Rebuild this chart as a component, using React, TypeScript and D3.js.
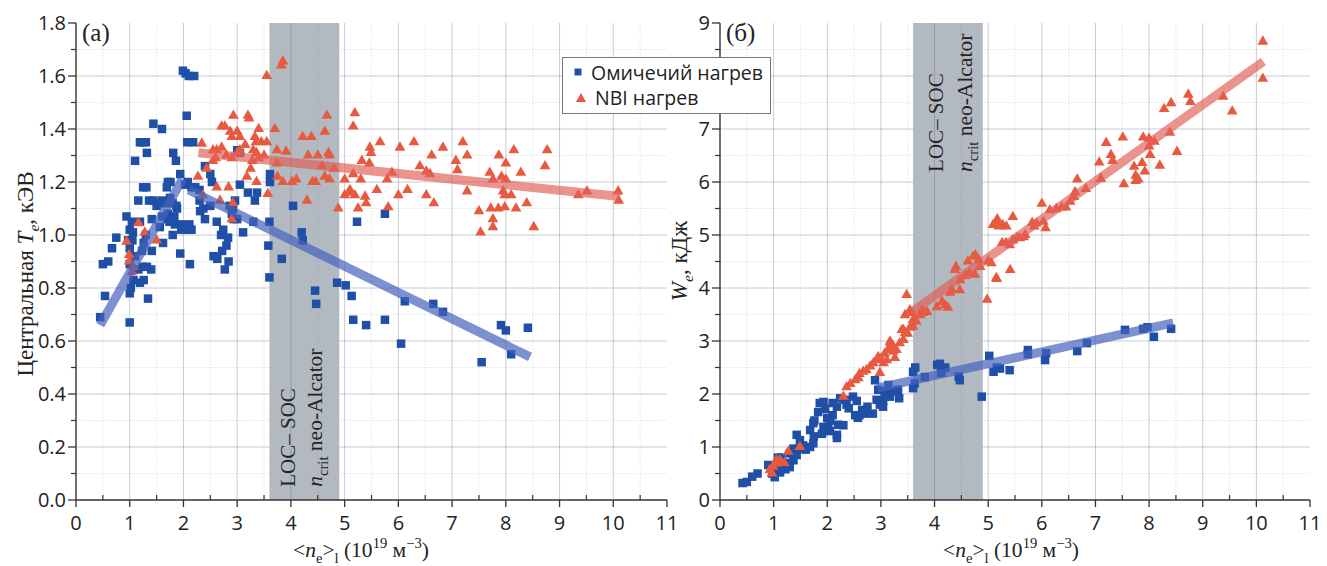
import React, { useEffect, useRef } from 'react';
import * as d3 from 'd3';

// two panels: central Te and stored energy We vs line-averaged density

type Pt = [number, number];

const xTicks = [0, 1, 2, 3, 4, 5, 6, 7, 8, 9, 10, 11];
const xMinor = [0.5, 1.5, 2.5, 3.5, 4.5, 5.5, 6.5, 7.5, 8.5, 9.5, 10.5];
const teTicks = [0, 0.2, 0.4, 0.6, 0.8, 1.0, 1.2, 1.4, 1.6, 1.8];
const teMinor = [0.1, 0.3, 0.5, 0.7, 0.9, 1.1, 1.3, 1.5, 1.7];
const weTicks = [0, 1, 2, 3, 4, 5, 6, 7, 8, 9];
const weMinor = [0.5, 1.5, 2.5, 3.5, 4.5, 5.5, 6.5, 7.5, 8.5];
const band: Pt = [3.6, 4.9];

const legendLabels = ['Омичечий нагрев', 'NBI нагрев'];

const ohmicTe: Pt[] = [
  [0.45, 0.69], [0.54, 0.77], [1.0, 0.67], [0.5, 0.89], [0.6, 0.9], [0.67, 0.95], [0.75, 0.99], [0.94, 1.07],
  [1.0, 0.78], [1.02, 0.8], [1.34, 0.76], [1.07, 0.83], [1.19, 0.82], [1.26, 0.83], [1.16, 0.87], [1.24, 0.88],
  [1.32, 0.88], [1.4, 0.87], [1.0, 0.89], [1.1, 0.92], [1.23, 0.94], [1.41, 0.94], [1.0, 0.95], [0.97, 0.98],
  [1.05, 0.98], [1.26, 0.97], [1.3, 1.0], [1.62, 0.97], [1.06, 1.01], [1.0, 1.02], [1.04, 1.05], [1.19, 1.05],
  [1.41, 1.06], [1.56, 1.03], [1.16, 1.13], [1.1, 1.28], [1.25, 1.18], [1.31, 1.18], [1.36, 1.13], [1.44, 1.13],
  [1.56, 1.12], [1.68, 1.12], [1.8, 1.12], [1.88, 1.1], [1.5, 1.11], [1.6, 1.13], [1.71, 1.08], [1.83, 1.07],
  [1.74, 1.05], [1.84, 1.04], [1.99, 1.04], [2.11, 1.04], [1.96, 1.02], [2.11, 1.02], [2.15, 1.02], [1.71, 1.2],
  [1.76, 1.2], [1.94, 1.23], [1.69, 1.18], [1.75, 1.14], [1.87, 1.11], [1.6, 1.07], [1.7, 1.06], [1.8, 1.0],
  [1.94, 0.93], [2.12, 0.89], [1.19, 1.35], [1.24, 1.35], [1.3, 1.35], [1.32, 1.31], [1.44, 1.42], [1.6, 1.4],
  [1.81, 1.31], [1.86, 1.28], [1.99, 1.62], [2.04, 1.61], [2.1, 1.6], [2.2, 1.6], [2.06, 1.45], [2.07, 1.35],
  [2.18, 1.35], [2.03, 1.19], [2.08, 1.2], [2.15, 1.18], [2.22, 1.18], [2.3, 1.17], [2.4, 1.26], [2.31, 1.09],
  [2.37, 1.1], [2.3, 1.13], [2.4, 1.06], [2.5, 1.11], [2.53, 1.2], [2.5, 1.23], [2.62, 1.05], [2.56, 0.92],
  [2.63, 0.91], [2.7, 1.0], [2.74, 1.02], [2.72, 0.94], [2.8, 0.96], [2.83, 0.99], [2.77, 0.87], [2.84, 0.9],
  [2.9, 1.08], [2.92, 1.1], [2.86, 1.11], [2.93, 1.06], [3.0, 1.06], [2.96, 1.13], [3.0, 1.32], [3.05, 1.31],
  [3.05, 1.19], [3.11, 1.01], [3.3, 1.05], [3.2, 1.16], [3.33, 1.13], [3.37, 1.16], [3.6, 1.05], [3.58, 0.96],
  [3.83, 0.91], [3.6, 0.84], [3.61, 1.2], [3.61, 1.23], [4.04, 1.11], [4.2, 1.01], [4.22, 0.98], [4.45, 0.79],
  [4.47, 0.74], [4.86, 0.82], [5.02, 0.81], [5.13, 0.77], [5.16, 0.68], [5.4, 0.66], [5.75, 0.68], [6.05, 0.59],
  [6.12, 0.75], [6.65, 0.74], [6.83, 0.71], [7.55, 0.52], [7.91, 0.66], [8.0, 0.64], [8.1, 0.55], [8.41, 0.65],
  [5.23, 1.05], [5.75, 1.08],
];

const nbiTe: Pt[] = [
  [0.94, 0.975], [0.99, 0.925], [0.99, 0.9], [1.04, 0.86], [1.07, 0.88], [1.16, 1.045], [1.28, 1.01], [1.5, 0.98],
  [2.27, 1.22], [2.34, 1.345], [2.36, 1.15], [2.43, 1.25], [2.55, 1.28], [2.55, 1.32], [2.6, 1.29], [2.62, 1.32],
  [2.62, 1.18], [2.68, 1.13], [2.71, 1.33], [2.71, 1.41], [2.77, 1.41], [2.8, 1.3], [2.84, 1.18], [2.87, 1.39],
  [2.9, 1.29], [2.9, 1.37], [2.92, 1.12], [2.9, 1.06], [2.93, 1.45], [3.0, 1.31], [3.0, 1.39], [3.05, 1.32],
  [3.05, 1.37], [3.15, 1.34], [3.18, 1.22], [3.2, 1.45], [3.22, 1.44], [3.25, 1.25], [3.28, 1.28], [3.3, 1.32],
  [3.33, 1.37], [3.35, 1.35], [3.36, 1.31], [3.36, 1.2], [3.4, 1.29], [3.4, 1.4], [3.45, 1.35], [3.5, 1.3],
  [3.55, 1.35], [3.55, 1.6], [3.57, 1.155], [3.7, 1.4], [3.74, 1.32], [3.74, 1.27], [3.75, 1.22], [3.82, 1.64],
  [3.85, 1.655], [3.85, 1.2], [3.91, 1.315], [4.02, 1.2], [4.1, 1.21], [4.22, 1.37], [4.3, 1.13], [4.32, 1.3],
  [4.38, 1.37], [4.4, 1.2], [4.46, 1.2], [4.5, 1.3], [4.58, 1.26], [4.63, 1.39], [4.63, 1.22], [4.67, 1.45],
  [4.7, 1.31], [4.72, 1.3], [4.72, 1.21], [4.8, 1.25], [4.88, 1.1], [5.0, 1.21], [5.0, 1.15], [5.07, 1.16],
  [5.16, 1.23], [5.16, 1.41], [5.19, 1.46], [5.1, 1.17], [5.19, 1.15], [5.25, 1.1], [5.3, 1.21], [5.32, 1.28],
  [5.38, 1.145], [5.4, 1.12], [5.46, 1.27], [5.47, 1.33], [5.49, 1.31], [5.6, 1.17], [5.66, 1.35], [5.79, 1.21],
  [5.81, 1.105], [5.88, 1.235], [6.0, 1.15], [6.03, 1.33], [6.17, 1.17], [6.29, 1.35], [6.4, 1.26], [6.52, 1.24],
  [6.59, 1.23], [6.52, 1.15], [6.62, 1.3], [6.66, 1.12], [6.83, 1.33], [7.07, 1.28], [7.1, 1.245], [7.2, 1.35],
  [7.28, 1.3], [7.28, 1.165], [7.5, 1.09], [7.53, 1.01], [7.7, 1.235], [7.72, 1.1], [7.76, 1.06], [7.76, 1.03],
  [7.76, 1.21], [7.86, 1.1], [7.87, 1.3], [7.92, 1.22], [7.95, 1.165], [7.98, 1.105], [7.98, 1.15], [8.0, 1.21],
  [8.0, 1.27], [8.1, 1.15], [8.15, 1.32], [8.19, 1.1], [8.28, 1.235], [8.39, 1.12], [8.52, 1.03], [8.73, 1.26],
  [8.77, 1.32], [9.35, 1.15], [9.51, 1.165], [10.09, 1.165], [10.1, 1.13],
];

const ohmicWe: Pt[] = [
  [0.42, 0.32], [0.5, 0.34], [0.6, 0.44], [0.7, 0.5], [0.9, 0.66], [0.97, 0.5], [1.02, 0.43], [1.04, 0.55],
  [1.08, 0.69], [1.08, 0.8], [1.14, 0.8], [1.17, 0.63], [1.24, 0.7], [1.3, 0.62], [1.3, 0.88], [1.37, 0.97],
  [1.43, 1.23], [1.49, 1.13], [1.37, 0.75], [1.43, 0.85], [1.49, 0.97], [1.55, 1.03], [1.68, 1.0], [1.74, 1.07],
  [1.68, 1.32], [1.74, 1.45], [1.76, 1.5], [1.83, 1.66], [1.86, 1.83], [1.93, 1.85], [1.96, 1.72], [1.93, 1.38],
  [2.02, 1.38], [2.05, 1.3], [2.05, 1.5], [2.1, 1.6], [2.18, 1.23], [2.18, 1.17], [2.1, 1.83], [2.18, 1.76],
  [2.3, 1.41], [2.24, 1.92], [2.33, 1.89], [2.36, 1.8], [2.4, 1.73], [2.48, 1.95], [2.55, 1.87], [2.52, 1.6],
  [2.57, 1.55], [2.6, 1.6], [2.65, 1.7], [2.7, 1.63], [2.75, 1.76], [2.85, 1.63], [2.92, 1.89], [2.95, 2.08],
  [2.98, 1.8], [3.04, 1.76], [3.04, 1.86], [3.07, 1.95], [3.1, 2.05], [3.14, 2.17], [3.17, 1.95], [3.23, 2.05],
  [3.32, 2.08], [3.34, 1.92], [2.89, 2.26], [3.6, 2.42], [3.64, 2.5], [3.6, 2.11], [3.63, 2.2], [3.82, 2.32],
  [4.05, 2.55], [4.1, 2.57], [4.13, 2.45], [4.12, 2.4], [4.2, 2.5], [4.45, 2.33], [4.47, 2.26], [4.88, 1.95],
  [5.02, 2.72], [5.1, 2.42], [5.16, 2.5], [5.22, 2.48], [5.4, 2.45], [5.74, 2.83], [5.74, 2.75], [6.06, 2.64],
  [6.08, 2.77], [6.66, 2.81], [6.84, 2.96], [7.55, 3.21], [7.89, 3.23], [7.97, 3.26], [8.09, 3.08], [8.41, 3.23],
  [1.15, 0.72], [1.22, 0.58], [1.0, 0.62], [1.12, 0.52], [1.6, 0.95], [1.75, 1.2], [2.0, 1.55], [2.2, 1.42],
  [1.9, 1.25],
];

const nbiWe: Pt[] = [
  [0.93, 0.57], [0.97, 0.5], [0.99, 0.63], [1.06, 0.69], [1.12, 0.75], [1.2, 0.7], [1.27, 0.91], [1.49, 1.0],
  [1.05, 0.75], [2.3, 1.95], [2.36, 2.13], [2.43, 2.19], [2.52, 2.26], [2.58, 2.3], [2.6, 2.38], [2.67, 2.42],
  [2.73, 2.45], [2.8, 2.52], [2.86, 2.58], [2.92, 2.64], [2.95, 2.7], [2.98, 2.4], [3.0, 2.67], [3.05, 2.58],
  [3.07, 2.76], [3.11, 2.64], [3.13, 2.83], [3.17, 2.99], [3.18, 2.96], [3.23, 2.9], [3.23, 2.8], [3.26, 2.68],
  [3.29, 2.83], [3.35, 2.96], [3.39, 3.21], [3.42, 3.02], [3.42, 3.21], [3.45, 3.15], [3.5, 3.14], [3.54, 3.25],
  [3.6, 3.27], [3.6, 3.4], [3.62, 3.4], [3.45, 3.49], [3.54, 3.58], [3.48, 3.87], [3.58, 3.53], [3.66, 3.37],
  [3.73, 3.49], [3.77, 3.59], [3.78, 3.53], [3.86, 3.55], [4.04, 3.64], [4.14, 3.74], [4.2, 3.67], [4.25, 3.63],
  [4.29, 3.91], [4.32, 3.97], [4.47, 3.96], [4.48, 4.15], [4.57, 4.23], [4.65, 4.28], [4.75, 4.25], [4.38, 4.34],
  [4.4, 4.4], [4.62, 4.5], [4.72, 4.59], [4.76, 4.62], [4.82, 4.53], [4.85, 4.4], [4.98, 3.78], [5.0, 4.5],
  [5.06, 4.47], [5.15, 4.19], [5.16, 4.17], [5.41, 4.34], [5.26, 4.85], [5.33, 4.85], [5.4, 4.81], [5.46, 4.9],
  [5.54, 4.95], [5.66, 4.96], [5.09, 5.19], [5.15, 5.26], [5.2, 5.16], [5.27, 5.19], [5.17, 5.3], [5.34, 5.16],
  [5.46, 5.34], [5.59, 4.94], [5.69, 5.0], [5.82, 5.23], [5.86, 5.16], [5.9, 5.22], [6.0, 5.59], [6.03, 5.25],
  [6.07, 5.13], [6.15, 5.47], [6.27, 5.49], [6.37, 5.52], [6.45, 5.52], [6.53, 5.63], [6.6, 5.72], [6.62, 5.81],
  [6.66, 6.05], [6.82, 5.87], [7.1, 6.06], [7.07, 6.37], [7.2, 6.74], [7.29, 6.51], [7.32, 6.4], [7.51, 6.84],
  [7.53, 5.96], [7.72, 6.29], [7.75, 6.12], [7.75, 6.02], [7.8, 6.05], [7.87, 6.36], [7.89, 6.84], [7.92, 6.2],
  [8.0, 6.67], [8.0, 6.82], [8.02, 6.51], [8.1, 6.76], [8.2, 6.31], [8.39, 6.93], [8.52, 6.57], [8.28, 7.38],
  [8.41, 7.49], [8.73, 7.65], [8.77, 7.51], [9.38, 7.61], [9.55, 7.33], [10.12, 8.65], [10.12, 7.95],
];

// fitted trend lines (segments)
const ohmicTeFits: Pt[][] = [[[0.45, 0.66], [1.98, 1.21]], [[2.1, 1.17], [8.45, 0.54]]];
const nbiTeFits: Pt[][] = [[[2.28, 1.31], [10.13, 1.145]]];
const ohmicWeFits: Pt[][] = [[[2.93, 2.11], [8.45, 3.34]]];
const nbiWeFits: Pt[][] = [[[3.58, 3.55], [10.13, 8.27]]];

type Part = { t: string; italic?: boolean; sub?: boolean; sup?: boolean };

const rich = (text: any, parts: Part[], size: number) => {
  let shift = 0;
  parts.forEach(p => {
    const target = p.sub ? size * 0.26 : p.sup ? -size * 0.42 : 0;
    const ts = text.append('tspan').text(p.t).attr('dy', target - shift);
    if (p.sub || p.sup) ts.attr('font-size', size * 0.68);
    if (p.italic) ts.attr('font-style', 'italic');
    shift = target;
  });
};

const BLUE = '#1f4fa7';
const RED = '#e85a40';
const SERIF = '"Liberation Serif", "Times New Roman", serif';
const SANS = '"Open Sans", "Noto Sans", sans-serif';
const TOP = 23;
const BOTTOM = 500;

interface PanelCfg {
  left: number;
  right: number;
  yMax: number;
  yTicks: number[];
  yMinor: number[];
  yFormat: (d: number) => string;
  ohmic: Pt[];
  nbi: Pt[];
  ohmicFits: Pt[][];
  nbiFits: Pt[][];
  tag: string;
  bandTextX: [number, number];
  bandTextY: number;
  titleX: number;
  yTitle: Part[];
  yTitleX: number;
  yTitleY: number;
}

const drawPanel = (svg: any, cfg: PanelCfg) => {
  const x = d3.scaleLinear().domain([0, 11]).range([cfg.left, cfg.right]);
  const y = d3.scaleLinear().domain([0, cfg.yMax]).range([BOTTOM, TOP]);
  const g = svg.append('g');
  const grid = 'rgba(105,115,130,0.36)';

  // horizontal grid
  g.append('g').selectAll('line').data(cfg.yTicks.filter(d => d > 0 && d < cfg.yMax)).join('line')
    .attr('x1', x(0)).attr('x2', x(11)).attr('y1', d => y(d)).attr('y2', d => y(d))
    .attr('stroke', grid).attr('stroke-width', 1);
  g.append('g').selectAll('line').data(cfg.yMinor).join('line')
    .attr('x1', x(0)).attr('x2', x(11)).attr('y1', d => y(d)).attr('y2', d => y(d))
    .attr('stroke', grid).attr('stroke-width', 0.8).attr('stroke-dasharray', '1.5,1.5').attr('opacity', 0.6);

  // band
  g.append('rect')
    .attr('x', x(band[0])).attr('width', x(band[1]) - x(band[0]))
    .attr('y', y(cfg.yMax)).attr('height', y(0) - y(cfg.yMax))
    .attr('fill', '#b2b9c0');

  // vertical grid
  g.append('g').selectAll('line').data(xTicks.filter(d => d > 0 && d < 11)).join('line')
    .attr('y1', y(0)).attr('y2', y(cfg.yMax)).attr('x1', d => x(d)).attr('x2', d => x(d))
    .attr('stroke', grid).attr('stroke-width', 1);
  g.append('g').selectAll('line').data(xMinor).join('line')
    .attr('y1', y(0)).attr('y2', y(cfg.yMax)).attr('x1', d => x(d)).attr('x2', d => x(d))
    .attr('stroke', grid).attr('stroke-width', 0.8).attr('stroke-dasharray', '1.5,1.5').attr('opacity', 0.6);

  // band labels
  const bt1 = g.append('text')
    .attr('transform', `translate(${x(cfg.bandTextX[0])},${y(cfg.bandTextY)}) rotate(-90)`)
    .attr('font-family', SERIF).attr('font-size', 21).attr('fill', '#222');
  rich(bt1, [{ t: 'LOC–\u00a0SOC' }], 21);
  const bt2 = g.append('text')
    .attr('transform', `translate(${x(cfg.bandTextX[1])},${y(cfg.bandTextY)}) rotate(-90)`)
    .attr('font-family', SERIF).attr('font-size', 21.5).attr('fill', '#222');
  rich(bt2, [{ t: 'n', italic: true }, { t: 'crit', sub: true }, { t: ' neo-Alcator' }], 21.5);

  // markers
  const sq = 8.5;
  g.append('g').selectAll('rect').data(cfg.ohmic).join('rect')
    .attr('x', d => x(d[0]) - sq / 2).attr('y', d => y(d[1]) - sq / 2)
    .attr('width', sq).attr('height', sq).attr('fill', BLUE);
  const tri = d3.symbol().type(d3.symbolTriangle).size(50);
  g.append('g').selectAll('path').data(cfg.nbi).join('path')
    .attr('d', tri()).attr('transform', d => `translate(${x(d[0])},${y(d[1])})`)
    .attr('fill', RED);

  // fits
  const line = d3.line<Pt>().x(d => x(d[0])).y(d => y(d[1]));
  g.append('g').selectAll('path').data(cfg.ohmicFits).join('path')
    .attr('d', d => line(d)).attr('stroke', 'rgb(70,98,190)').attr('stroke-opacity', 0.7)
    .attr('stroke-width', 9).attr('fill', 'none');
  g.append('g').selectAll('path').data(cfg.nbiFits).join('path')
    .attr('d', d => line(d)).attr('stroke', 'rgb(226,96,88)').attr('stroke-opacity', 0.68)
    .attr('stroke-width', 9).attr('fill', 'none');

  // axes
  const ax = '#333';
  g.append('line').attr('x1', x(0)).attr('x2', x(11)).attr('y1', y(0)).attr('y2', y(0))
    .attr('stroke', ax).attr('stroke-width', 1.4);
  g.append('line').attr('x1', x(0)).attr('x2', x(0)).attr('y1', y(0)).attr('y2', y(cfg.yMax))
    .attr('stroke', ax).attr('stroke-width', 1.4);

  g.append('g').selectAll('line').data(xTicks).join('line')
    .attr('x1', d => x(d)).attr('x2', d => x(d)).attr('y1', y(0)).attr('y2', y(0) + 7)
    .attr('stroke', ax).attr('stroke-width', 1.3);
  g.append('g').selectAll('line').data(xMinor).join('line')
    .attr('x1', d => x(d)).attr('x2', d => x(d)).attr('y1', y(0)).attr('y2', y(0) - 5)
    .attr('stroke', ax).attr('stroke-width', 1.2);
  g.append('g').selectAll('text').data(xTicks).join('text')
    .attr('x', d => x(d)).attr('y', 530).attr('text-anchor', 'middle')
    .attr('font-family', SANS).attr('font-size', 20).attr('fill', '#222')
    .text(d => String(d));

  g.append('g').selectAll('line').data(cfg.yTicks).join('line')
    .attr('x1', x(0) - 8).attr('x2', x(0)).attr('y1', d => y(d)).attr('y2', d => y(d))
    .attr('stroke', ax).attr('stroke-width', 1.3);
  g.append('g').selectAll('line').data(cfg.yMinor).join('line')
    .attr('x1', x(0) - 5).attr('x2', x(0)).attr('y1', d => y(d)).attr('y2', d => y(d))
    .attr('stroke', ax).attr('stroke-width', 1.2);
  g.append('g').selectAll('text').data(cfg.yTicks).join('text')
    .attr('x', x(0) - 10).attr('y', d => y(d) + 7).attr('text-anchor', 'end')
    .attr('font-family', SANS).attr('font-size', 20).attr('fill', '#222')
    .text(d => cfg.yFormat(d));

  // panel tag
  g.append('text').attr('x', x(0) + 6).attr('y', 41)
    .attr('font-family', SERIF).attr('font-size', 25).attr('fill', '#222').text(cfg.tag);

  // x title
  const xt = g.append('text').attr('x', cfg.titleX).attr('y', 557)
    .attr('font-family', SERIF).attr('font-size', 21.5).attr('fill', '#222');
  rich(xt, [
    { t: '<' }, { t: 'n', italic: true }, { t: 'e', sub: true }, { t: '>' }, { t: 'l', sub: true },
    { t: ' (10' }, { t: '19', sup: true }, { t: ' м' }, { t: '−3', sup: true }, { t: ')' },
  ], 21.5);

  // y title
  const yt = g.append('text')
    .attr('transform', `translate(${cfg.yTitleX},${cfg.yTitleY}) rotate(-90)`)
    .attr('text-anchor', 'middle')
    .attr('font-family', SERIF).attr('font-size', 23).attr('fill', '#222');
  rich(yt, cfg.yTitle, 23);
};

const App = () => {
  const ref = useRef<SVGSVGElement>(null);

  useEffect(() => {
    const svg = d3.select(ref.current);
    svg.selectAll('*').remove();
    svg.append('rect').attr('width', 1327).attr('height', 566).attr('fill', '#fff');

    drawPanel(svg, {
      left: 76, right: 667, yMax: 1.8, yTicks: teTicks, yMinor: teMinor,
      yFormat: d3.format('.1f'), ohmic: ohmicTe, nbi: nbiTe,
      ohmicFits: ohmicTeFits, nbiFits: nbiTeFits, tag: '(a)',
      bandTextX: [4.08, 4.58], bandTextY: 0.05, titleX: 293,
      yTitle: [{ t: 'Центральная ' }, { t: 'T', italic: true }, { t: 'e', italic: true, sub: true }, { t: ', кЭВ' }],
      yTitleX: 33, yTitleY: 274,
    });
    drawPanel(svg, {
      left: 720, right: 1310, yMax: 9, yTicks: weTicks, yMinor: weMinor,
      yFormat: d3.format('d'), ohmic: ohmicWe, nbi: nbiWe,
      ohmicFits: ohmicWeFits, nbiFits: nbiWeFits, tag: '(б)',
      bandTextX: [4.16, 4.7], bandTextY: 6.19, titleX: 943,
      yTitle: [{ t: 'W', italic: true }, { t: 'e', italic: true, sub: true }, { t: ', кДж' }],
      yTitleX: 687, yTitleY: 261,
    });

    // legend (covers the "8" tick of the right panel, as in the original)
    const lg = svg.append('g');
    lg.append('rect').attr('x', 562.5).attr('y', 57.5).attr('width', 208).attr('height', 56)
      .attr('fill', '#fff').attr('stroke', '#777').attr('stroke-width', 1);
    lg.append('rect').attr('x', 574.5).attr('y', 68.5).attr('width', 7).attr('height', 7).attr('fill', BLUE);
    lg.append('path').attr('d', d3.symbol().type(d3.symbolTriangle).size(45)())
      .attr('transform', 'translate(581,99)').attr('fill', RED);
    lg.selectAll('text.lab').data(legendLabels).join('text')
      .attr('class', 'lab')
      .attr('x', (d, i) => (i === 0 ? 591 : 595)).attr('y', (d, i) => (i === 0 ? 80 : 105))
      .attr('font-family', SANS).attr('font-size', 19.5).attr('fill', '#222')
      .text(d => d);
  }, []);

  return (
    <svg ref={ref} width={1327} height={566} viewBox="0 0 1327 566"
      style={{ position: 'absolute', left: 0, top: 0 }} />
  );
};

export default App;
